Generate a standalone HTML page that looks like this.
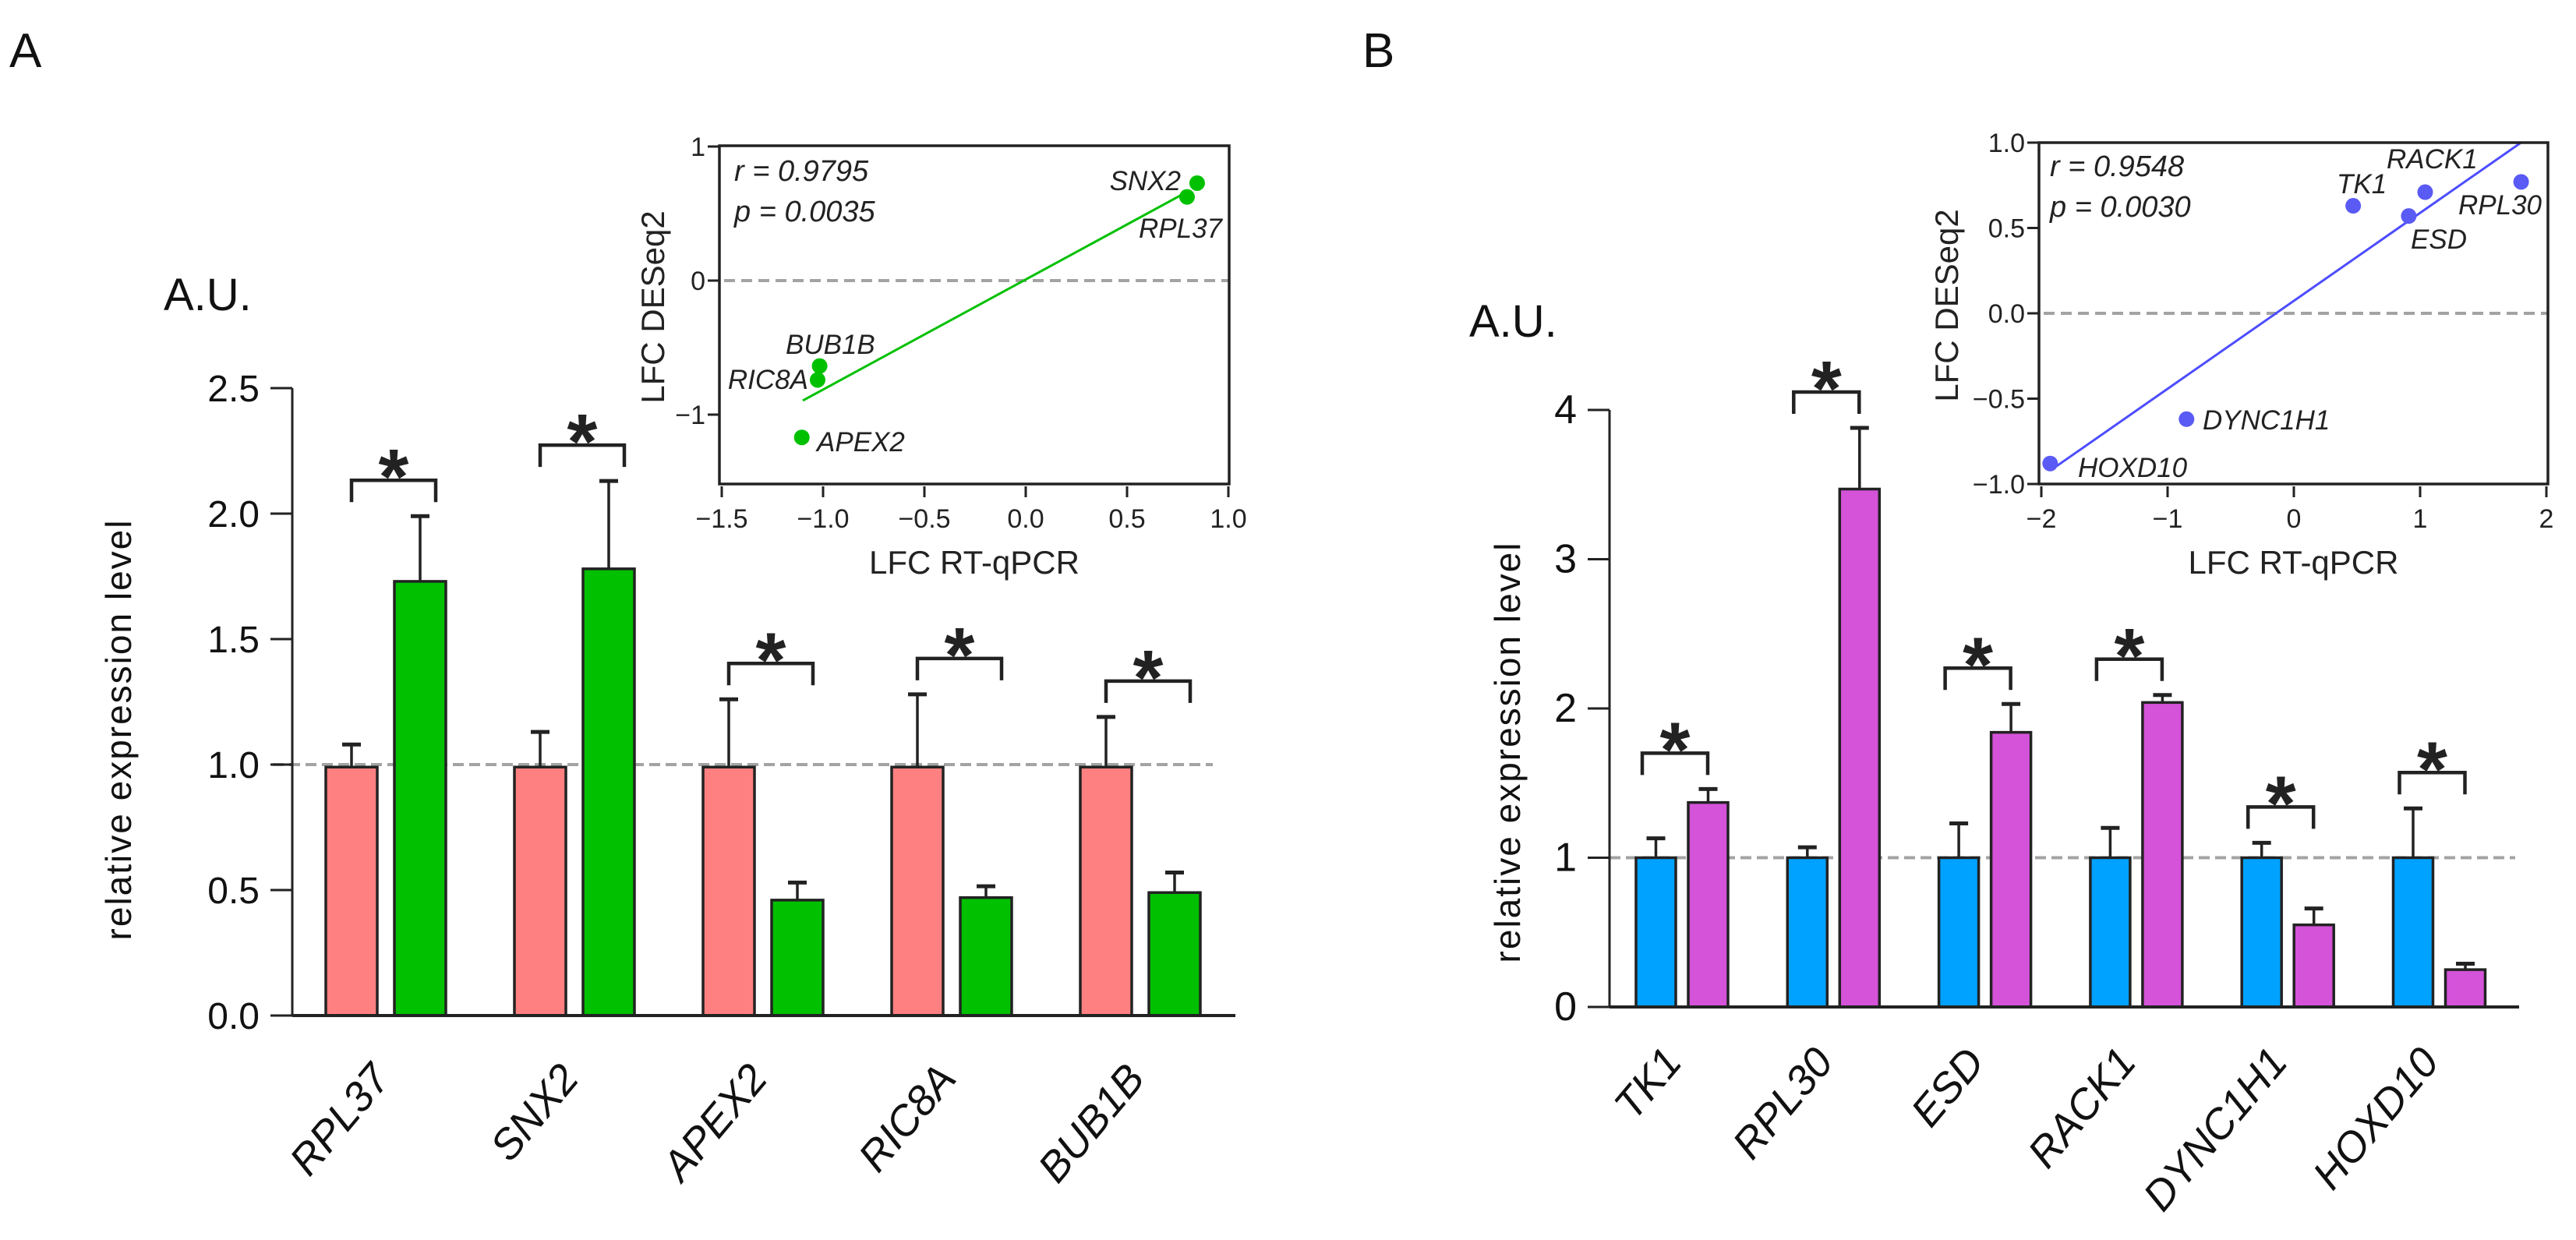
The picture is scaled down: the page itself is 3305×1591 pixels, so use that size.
<!DOCTYPE html>
<html><head><meta charset="utf-8"><style>
html,body{margin:0;padding:0;background:#fff;}
svg{display:block;font-family:"Liberation Sans",Arial,sans-serif;}
</style></head><body>
<svg id="fig" width="3305" height="1591" viewBox="0 0 3305 1591" xmlns="http://www.w3.org/2000/svg">
<text x="12" y="86" font-size="62" fill="#111">A</text>
<text x="1748" y="86" font-size="62" fill="#111">B</text>
<text x="210" y="398" font-size="58" fill="#111">A.U.</text>
<text x="1885" y="432" font-size="58" fill="#111">A.U.</text>
<text transform="translate(168,936) rotate(-90)" text-anchor="middle" font-size="46" letter-spacing="2" fill="#111">relative expression level</text>
<text transform="translate(1950,965) rotate(-90)" text-anchor="middle" font-size="46" letter-spacing="2" fill="#111">relative expression level</text>
<g id="gA"></g>
<g id="gB"></g>
<g id="iA"></g>
<g id="iB"></g>
</svg>
<script>
// ---- Panel A bar data ----
const genesA = ["RPL37","SNX2","APEX2","RIC8A","BUB1B"];
const ctrlA = [0.99,0.99,0.99,0.99,0.99];
const ctrlErrA = [1.08,1.13,1.26,1.28,1.19];
const trtA = [1.73,1.78,0.46,0.47,0.49];
const trtErrA = [1.99,2.13,0.53,0.515,0.57];
const ticksA = ["0.0","0.5","1.0","1.5","2.0","2.5"];
const tickValsA = [0,0.5,1,1.5,2,2.5];
// ---- Panel B bar data ----
const genesB = ["TK1","RPL30","ESD","RACK1","DYNC1H1","HOXD10"];
const ctrlB = [1,1,1,1,1,1];
const ctrlErrB = [1.13,1.07,1.23,1.20,1.10,1.33];
const trtB = [1.37,3.47,1.84,2.04,0.55,0.25];
const trtErrB = [1.46,3.88,2.03,2.09,0.66,0.29];
const ticksB = ["0","1","2","3","4"];
const tickValsB = [0,1,2,3,4];
// ---- Inset A scatter ----
const scatNamesA = ["SNX2","RPL37","BUB1B","RIC8A","APEX2"];
const scatXA = [0.846,0.796,-1.017,-1.027,-1.105];
const scatYA = [0.727,0.624,-0.637,-0.741,-1.17];
const insetXTicksA = [-1.5,-1.0,-0.5,0.0,0.5,1.0];
const insetXTickLabelsA = ["\u22121.5","\u22121.0","\u22120.5","0.0","0.5","1.0"];
const insetYTicksA = [1,0,-1];
const insetYTickLabelsA = ["1","0","\u22121"];
// ---- Inset B scatter ----
const scatNamesB = ["TK1","RACK1","RPL30","ESD","DYNC1H1","HOXD10"];
const scatXB = [0.47,1.04,1.80,0.91,-0.85,-1.93];
const scatYB = [0.63,0.71,0.77,0.57,-0.62,-0.88];
const insetXTicksB = [-2,-1,0,1,2];
const insetXTickLabelsB = ["\u22122","\u22121","0","1","2"];
const insetYTicksB = [1.0,0.5,0.0,-0.5,-1.0];
const insetYTickLabelsB = ["1.0","0.5","0.0","\u22120.5","\u22121.0"];

const NS="http://www.w3.org/2000/svg";
function mk(parent,tag,attrs,text){const e=document.createElementNS(NS,tag);for(const k in attrs)e.setAttribute(k,attrs[k]);if(text!==undefined)e.textContent=text;parent.appendChild(e);return e;}

function barChart(g,genes,ctrl,ctrlErr,trt,trtErr,ticks,tickVals,o){
  const y=v=>o.y0-v*o.k;
  let d=mk(g,'line',{x1:o.dashX1,x2:o.dashX2,y1:y(1),y2:y(1),stroke:'#a3a3a3','stroke-width':4,'stroke-dasharray':'14 7'});
  
  
  genes.forEach((gn,i)=>{
    const x1=o.x0+o.step*i, x2=x1+o.off;
    const bars=[[x1,ctrl[i],ctrlErr[i],o.c1,'control'],[x2,trt[i],trtErr[i],o.c2,'treated']];
    bars.forEach(b=>{
      const cx=b[0]+o.w/2;
      let e=mk(g,'line',{x1:cx,x2:cx,y1:y(b[1]),y2:y(b[2]),stroke:'#222','stroke-width':3.5});
      
      
      mk(g,'line',{x1:cx-12,x2:cx+12,y1:y(b[2]),y2:y(b[2]),stroke:'#222','stroke-width':5});
      let r=mk(g,'rect',{x:b[0],y:y(b[1]),width:o.w,height:y(0)-y(b[1]),fill:b[3],stroke:'#222','stroke-width':3.5});
      
      
    });
    const top=Math.min(y(ctrlErr[i]),y(trtErr[i]))-46;
    const lx=x1+o.bl, rx=x2+o.br;
    let br=mk(g,'path',{d:`M${lx},${top+28}V${top}H${rx}V${top+28}`,fill:'none',stroke:'#222','stroke-width':4.5});
    
    
    let s=mk(g,'text',{x:(lx+rx)/2,y:top+30,'text-anchor':'middle','font-size':100,'font-weight':'bold',fill:'#222'},'*');
    
    
    const gc=(x1+x2+o.w)/2+o.labDx;
    let t=mk(g,'text',{transform:`translate(${gc},${y(0)+o.labDy}) rotate(-50)`,'text-anchor':'end','font-size':o.labFs,'font-style':'italic',fill:'#111'},gn);
    
    
  });
  let ax=mk(g,'line',{x1:o.ax,x2:o.ax,y1:y(tickVals[tickVals.length-1]),y2:y(0)+1,stroke:'#222','stroke-width':3});
  
  
  let bl=mk(g,'line',{x1:o.ax,x2:o.baseEnd,y1:y(0),y2:y(0),stroke:'#222','stroke-width':4});
  
  
  tickVals.forEach((v,i)=>{
    mk(g,'line',{x1:o.ax-28,x2:o.ax,y1:y(v),y2:y(v),stroke:'#222','stroke-width':3});
    let t=mk(g,'text',{x:o.ax-42,y:y(v)+17,'text-anchor':'end','font-size':o.tickFs,fill:'#111'},ticks[i]);
    
    
  });
}
barChart(document.getElementById('gA'),genesA,ctrlA,ctrlErrA,trtA,trtErrA,ticksA,tickValsA,
 {y0:1303,k:322,x0:418,step:242,off:88,w:66,c1:'#ff8080',c2:'#00c000',ax:375,baseEnd:1585,dashX1:350,dashX2:1556,bl:33,br:53,labDx:8,labDy:82,labFs:54,tickFs:48});
barChart(document.getElementById('gB'),genesB,ctrlB,ctrlErrB,trtB,trtErrB,ticksB,tickValsB,
 {y0:1292,k:191.5,x0:2099,step:194.3,off:67,w:51,c1:'#00a2ff',c2:'#d453d9',ax:2065,baseEnd:3232,dashX1:2065,dashX2:3227,bl:8,br:25,labDx:2,labDy:72,labFs:54,tickFs:52});

function inset(g,names,xs,ys,xt,xtl,yt,ytl,o){
  const X=v=>o.x0+v*o.kx, Y=v=>o.y0-v*o.ky;
  const clipId='clip'+o.id;
  const defs=mk(g,'defs',{});
  const cp=mk(defs,'clipPath',{id:clipId});
  mk(cp,'rect',{x:o.L,y:o.T,width:o.R-o.L,height:o.B-o.T});
  let z=mk(g,'line',{x1:o.L+6,x2:o.R,y1:Y(0),y2:Y(0),stroke:'#a3a3a3','stroke-width':4,'stroke-dasharray':'14 8'});
  
  
  const n=xs.length,mx=xs.reduce((a,b)=>a+b)/n,my=ys.reduce((a,b)=>a+b)/n;
  let sxy=0,sxx=0;xs.forEach((x,i)=>{sxy+=(x-mx)*(ys[i]-my);sxx+=(x-mx)*(x-mx);});
  const sl=sxy/sxx,ic=my-sl*mx;
  const xa=Math.min(...xs)+o.fitPad[0], xb=Math.max(...xs)+o.fitPad[1];
  let fl=mk(g,'line',{x1:X(xa),y1:Y(sl*xa+ic),x2:X(xb),y2:Y(sl*xb+ic),stroke:o.lc,'stroke-width':3,'clip-path':`url(#${clipId})`});
  
  
  names.forEach((nm,i)=>{
    let c=mk(g,'circle',{cx:X(xs[i]),cy:Y(ys[i]),r:10,fill:o.pc});
    
    
    const lp=o.labels[i];
    let t=mk(g,'text',{x:lp[0],y:lp[1],'text-anchor':lp[2],'font-size':35,'font-style':'italic',fill:'#222'},nm);
    
    
  });
  let fr=mk(g,'rect',{x:o.L,y:o.T,width:o.R-o.L,height:o.B-o.T,fill:'none',stroke:'#222','stroke-width':3.5});
  
  
  xt.forEach((v,i)=>{
    mk(g,'line',{x1:X(v),x2:X(v),y1:o.B+3,y2:o.B+17,stroke:'#222','stroke-width':3});
    let t=mk(g,'text',{x:X(v),y:o.B+56,'text-anchor':'middle','font-size':34,fill:'#222'},xtl[i]);
    
    
  });
  yt.forEach((v,i)=>{
    mk(g,'line',{x1:o.L-15,x2:o.L,y1:Y(v),y2:Y(v),stroke:'#222','stroke-width':3});
    let t=mk(g,'text',{x:o.L-18,y:Y(v)+12,'text-anchor':'end','font-size':34,fill:'#222'},ytl[i]);
    
    
  });
  let r1=mk(g,'text',{x:o.statX,y:o.statY,'font-size':38,'font-style':'italic',fill:'#222'},o.rText);
  
  
  let p1=mk(g,'text',{x:o.statX,y:o.statY+52,'font-size':38,'font-style':'italic',fill:'#222'},o.pText);
  
  
  let xt1=mk(g,'text',{x:(o.L+o.R)/2,y:736,'text-anchor':'middle','font-size':42,fill:'#222'},'LFC RT-qPCR');
  
  
  let yt1=mk(g,'text',{transform:`translate(${o.yTitleX},${(o.T+o.B)/2-10}) rotate(-90)`,'text-anchor':'middle','font-size':42,fill:'#222'},'LFC DESeq2');
  
  
}
inset(document.getElementById('iA'),scatNamesA,scatXA,scatYA,insetXTicksA,insetXTickLabelsA,insetYTicksA,insetYTickLabelsA,
 {id:'A',x0:1316,kx:260,y0:360,ky:172,L:923,R:1577,T:187,B:621,lc:'#00c000',pc:'#00c000',fitPad:[0.005,-0.06],
  labels:[[1515,244,'end'],[1461,305,'start'],[1008,454,'start'],[1037,499,'end'],[1048,579,'start']],
  statX:942,statY:232,rText:'r = 0.9795',pText:'p = 0.0035',yTitleX:852});
inset(document.getElementById('iB'),scatNamesB,scatXB,scatYB,insetXTicksB,insetXTickLabelsB,insetYTicksB,insetYTickLabelsB,
 {id:'B',x0:2943,kx:162,y0:402,ky:219,L:2616,R:3269,T:183,B:621,lc:'#4d4dff',pc:'#5a5af5',fitPad:[0.05,0.2],
  labels:[[2998,248,'start'],[3062,216,'start'],[3154,275,'start'],[3093,319,'start'],[2826,551,'start'],[2666,612,'start']],
  statX:2630,statY:226,rText:'r = 0.9548',pText:'p = 0.0030',yTitleX:2512});
</script>
</body></html>
